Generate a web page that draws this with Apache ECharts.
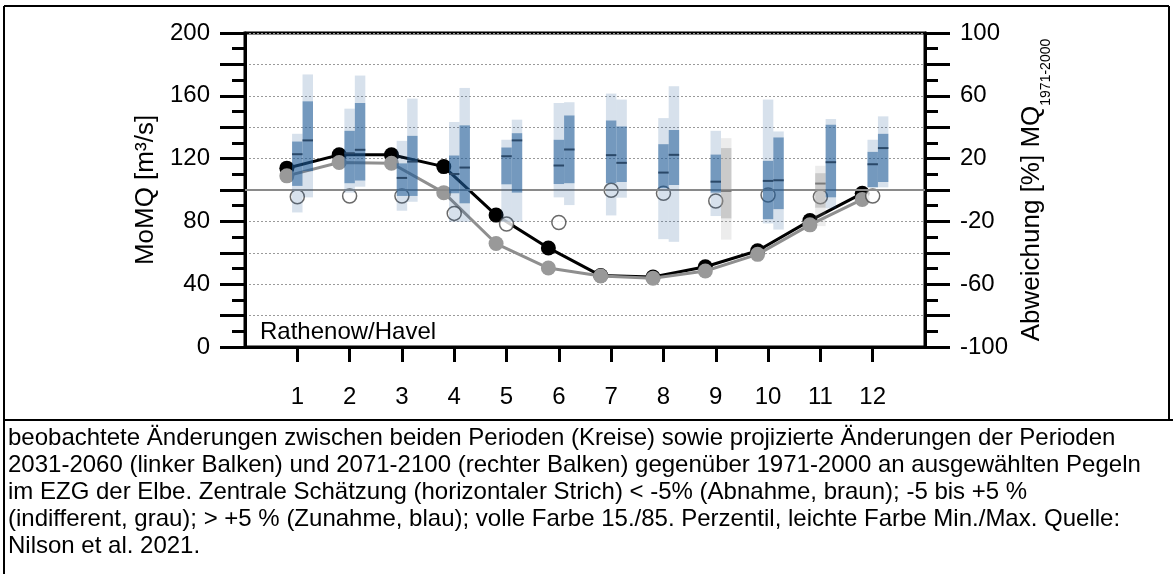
<!DOCTYPE html>
<html><head><meta charset="utf-8">
<script src="https://cdn.jsdelivr.net/npm/echarts@6/dist/echarts.min.js"></script>
<style>html,body{margin:0;padding:0;background:#fff}#c{width:1173px;height:574px}</style>
</head><body><div id="c"></div>
<script>
// ---- data ----
const months = [1,2,3,4,5,6,7,8,9,10,11,12];
const leftTickLabels = [0,40,80,120,160,200];
const rightTickLabels = [-100,-60,-20,20,60,100];
// MoMQ [m3/s]
const momqBlack = [113.9,122.4,122.4,114.9,84,63.1,45.5,44.6,51.1,61.3,80.5,97.9];
const momqGray  = [109,117.5,117,98.3,65.9,50.3,45.2,43.8,48.4,59,77.8,94];
// observed change [%] (circles)
const observedPct = [-4.3,-3.8,-3.8,-14.9,-21.7,-20.7,-0.2,-2.1,-7,-3.2,-4.3,-3.8];
// 2031-2060 (left bar) [%]
const nearMin = [-14.3,-1.7,-13.2,-20.3,-20.3,-4.7,-16.2,-31.3,-16.6,-21.3,-23,1.7];
const nearP15 = [2.6,4.3,-3.8,-2.1,3.6,3.8,4.3,1.1,-1.7,-18.6,-11.3,1.7];
const nearMed = [22.8,23.4,7.7,10.2,21.5,15.6,22.2,11.1,5.3,5.8,4.1,16.4];
const nearP85 = [30.9,37.7,17,22,27.1,32,44.3,29.2,22.6,18.6,10.7,24.3];
const nearMax = [35.8,51.8,31.3,43.3,32,55.4,61.4,45.8,37.7,57.6,15.4,32];
// 2071-2100 (right bar) [%]
const farMin = [-4.7,2.1,-7.5,-20.3,-20.3,-9.6,-4.9,-33,-31.6,-25.2,-11.7,1.7];
const farP15 = [12,6,-3.8,-8.5,-1.7,4.3,5.1,3.2,-18.1,-12.2,-4.7,5.1];
const farMed = [31.6,25.6,18.1,14.3,31.6,25.8,17.3,22.4,-0.6,6.2,17.7,26.7];
const farP85 = [56.5,55.4,34.5,41.2,36.2,47.5,40.5,38.2,26.7,33.5,41.6,35.8];
const farMax = [73.6,72.9,58.2,65,44.8,55.9,57.6,66.1,33,37.3,45.2,46.9];

const captionLines = [
  'beobachtete Änderungen zwischen beiden Perioden (Kreise) sowie projizierte Änderungen der Perioden',
  '2031-2060 (linker Balken) und 2071-2100 (rechter Balken) gegenüber 1971-2000 an ausgewählten Pegeln',
  'im EZG der Elbe. Zentrale Schätzung (horizontaler Strich) < -5% (Abnahme, braun); -5 bis +5 %',
  '(indifferent, grau); > +5 % (Zunahme, blau); volle Farbe 15./85. Perzentil, leichte Farbe Min./Max. Quelle:',
  'Nilson et al. 2021.'
];

// ---- layout/style ----
const FONT = 'Liberation Sans, Arial, sans-serif';
const BAR_W = 0.2, NEAR_DX = 0, FAR_DX = 0.2, LINE_DX = -0.2;

function palette(med) {
  if (med > 5) return {full:'rgba(31,90,150,0.62)', light:'rgba(31,90,150,0.18)', dash:'#2a4868'};
  if (med < -5) return {full:'rgba(150,90,30,0.62)', light:'rgba(150,90,30,0.18)', dash:'#5a3510'};
  return {full:'rgba(150,150,150,0.5)', light:'rgba(150,150,150,0.18)', dash:'#7a7a7a'};
}
function renderBars(params, api) {
  const x = api.value(0);
  const mn = api.value(1), p15 = api.value(2), med = api.value(3), p85 = api.value(4), mx = api.value(5);
  const w = api.size([BAR_W, 0])[0];
  const pal = palette(med);
  const px = api.coord([x, 0])[0] - w / 2;
  const y = v => api.coord([x, v])[1];
  const ch = [];
  if (mx > p85) ch.push({type:'rect', shape:{x:px, y:y(mx), width:w, height:y(p85)-y(mx)}, style:{fill:pal.light}});
  if (p15 > mn) ch.push({type:'rect', shape:{x:px, y:y(p15), width:w, height:y(mn)-y(p15)}, style:{fill:pal.light}});
  ch.push({type:'rect', shape:{x:px, y:y(p85), width:w, height:y(p15)-y(p85)}, style:{fill:pal.full}});
  ch.push({type:'line', shape:{x1:px, y1:y(med), x2:px+w, y2:y(med)}, style:{stroke:pal.dash, lineWidth:2}});
  return {type:'group', children:ch};
}
const nearData = months.map((m,i)=>[m+NEAR_DX, nearMin[i], nearP15[i], nearMed[i], nearP85[i], nearMax[i]]);
const farData  = months.map((m,i)=>[m+FAR_DX, farMin[i], farP15[i], farMed[i], farP85[i], farMax[i]]);

const axisBlack = {lineStyle:{color:'#000', width:3}};
const chart = echarts.init(document.getElementById('c'), null, {renderer:'canvas'});
chart.setOption({
  animation:false,
  backgroundColor:'#fff',
  grid:{left:245, right:248, top:33, bottom:227, show:true, borderColor:'#000', borderWidth:3},
  xAxis:{type:'value', min:0, max:13, interval:1,
    axisLine:axisBlack,
    axisTick:{show:true, length:15, lineStyle:{color:'#000', width:3}, customValues:months},
    axisLabel:{customValues:months, margin:38, fontSize:24, fontFamily:FONT, color:'#000'},
    splitLine:{show:false}},
  yAxis:[
    {type:'value', min:0, max:200, interval:20, position:'left',
      name:'MoMQ [m³/s]', nameLocation:'middle', nameRotate:90, nameGap:75,
      nameTextStyle:{fontSize:26, fontFamily:FONT, color:'#000'},
      axisLine:{show:true, lineStyle:{color:'#000', width:3}},
      axisTick:{show:true, length:25, lineStyle:{color:'#000', width:3}},
      minorTick:{show:true, splitNumber:2, length:13, lineStyle:{color:'#000', width:3}},
      axisLabel:{customValues:leftTickLabels, margin:35, fontSize:24, fontFamily:FONT, color:'#000'},
      splitLine:{show:true, lineStyle:{color:'#9a9a9a', width:1, type:[2,2]}}},
    {type:'value', min:-100, max:100, interval:20, position:'right',
      name:'{a|Abweichung [%] MQ}{b|1971-2000}', nameLocation:'middle', nameRotate:90, nameGap:90,
      nameTextStyle:{fontFamily:FONT, color:'#000',
        rich:{a:{fontSize:26, lineHeight:30, verticalAlign:'top', fontFamily:FONT, color:'#000'},
              b:{fontSize:14, lineHeight:14, padding:[20,0,0,0], verticalAlign:'top', fontFamily:FONT, color:'#000'}}},
      axisLine:{show:true, lineStyle:{color:'#000', width:3}},
      axisTick:{show:true, length:25, lineStyle:{color:'#000', width:3}},
      minorTick:{show:true, splitNumber:2, length:13, lineStyle:{color:'#000', width:3}},
      axisLabel:{customValues:rightTickLabels, margin:35, fontSize:24, fontFamily:FONT, color:'#000'},
      splitLine:{show:false}}
  ],
  series:[
    {type:'line', name:'ref', xAxisIndex:0, yAxisIndex:0, z:2,
      data:months.map((m,i)=>[m+LINE_DX, momqBlack[i]]),
      symbol:'circle', symbolSize:15, lineStyle:{color:'#000', width:3}, itemStyle:{color:'#000'},
      markLine:{silent:true, symbol:'none', label:{show:false}, lineStyle:{color:'#8a8a8a', width:2, type:'solid'},
        data:[{yAxis:100}]}},
    {type:'line', name:'new', xAxisIndex:0, yAxisIndex:0, z:3,
      data:months.map((m,i)=>[m+LINE_DX, momqGray[i]]),
      symbol:'circle', symbolSize:15, lineStyle:{color:'#8f8f8f', width:3}, itemStyle:{color:'#999'}},
    {type:'scatter', name:'obs', xAxisIndex:0, yAxisIndex:1, z:4,
      data:months.map((m,i)=>[m, observedPct[i]]),
      symbol:'circle', symbolSize:14, itemStyle:{color:'#fff', borderColor:'#444', borderWidth:1.5}},
    {type:'custom', name:'2031-2060', xAxisIndex:0, yAxisIndex:1, z:5,
      renderItem:renderBars, encode:{x:0, y:[1,2,3,4,5]}, data:nearData},
    {type:'custom', name:'2071-2100', xAxisIndex:0, yAxisIndex:1, z:5,
      renderItem:renderBars, encode:{x:0, y:[1,2,3,4,5]}, data:farData}
  ],
  graphic:[
    {type:'line', shape:{x1:4, y1:6, x2:1169, y2:6}, style:{stroke:'#000', lineWidth:2}},
    {type:'line', shape:{x1:4, y1:6, x2:4, y2:574}, style:{stroke:'#000', lineWidth:2}},
    {type:'line', shape:{x1:1169, y1:6, x2:1169, y2:420}, style:{stroke:'#000', lineWidth:2}},
    {type:'line', shape:{x1:4, y1:420, x2:1173, y2:420}, style:{stroke:'#000', lineWidth:2}},
    {type:'text', style:{text:'Rathenow/Havel', x:260, y:332, textVerticalAlign:'middle', fontSize:24, fontFamily:FONT, fill:'#000'}, z:10},
    {type:'text', style:{text:captionLines.join('\n'), x:8, y:425, textVerticalAlign:'top', fontSize:24, lineHeight:27, fontFamily:FONT, fill:'#000'}}
  ]
});
</script></body></html>
